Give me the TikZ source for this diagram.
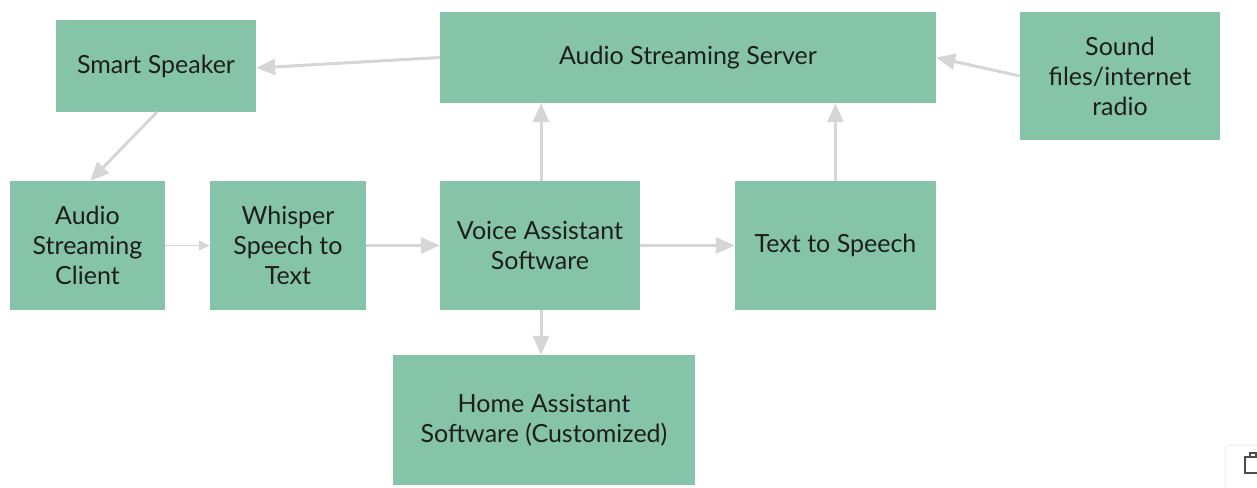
\documentclass[tikz,border=0pt]{standalone}
\usepackage{fontspec}
\setmainfont{Lato}
\usetikzlibrary{arrows.meta}
\definecolor{boxgreen}{RGB}{133,196,168}
\definecolor{linkgray}{RGB}{214,214,214}
\definecolor{textdark}{RGB}{30,30,30}
\tikzset{
  block/.style={fill=boxgreen, draw=none, text=textdark, align=center,
    font=\fontsize{25}{30}\selectfont, inner sep=0pt},
  link/.style={draw=linkgray, line width=3pt,
    -{Triangle[width=16pt,length=19pt]}},
  thinlink/.style={draw=linkgray, line width=1.5pt,
    -{Triangle[width=10pt,length=11pt]}},
}
% place a block by its pixel corners: left, top, right, bottom
\newcommand{\blockat}[6]{%
  \node[block, minimum width={#4-#2}, minimum height={#5-#3}]
    (#1) at ({(#2+#4)/2},{(#3+#5)/2}) {#6};}
\begin{document}
\begin{tikzpicture}[x=1pt, y=-1pt]
\useasboundingbox (0,0) rectangle (1257,487);

\blockat{speaker}{56}{20}{256}{112}{Smart Speaker}
\blockat{server}{440}{12}{936}{103}{Audio Streaming Server}
\blockat{sound}{1020}{12}{1220}{140}{Sound\\files/internet\\radio}
\blockat{client}{10}{181}{165}{310}{Audio\\Streaming\\Client}
\blockat{whisper}{210}{181}{366}{310}{Whisper\\Speech to\\Text}
\blockat{voice}{440}{181}{640}{310}{Voice Assistant\\Software}
\blockat{tts}{735}{181}{936}{310}{Text to Speech}
\blockat{home}{393}{355}{695}{485}{Home Assistant\\Software (Customized)}

% connectors
\draw[link] (server.west) -- ([yshift=-2pt]speaker.east);
\draw[link] (sound.west) -- (server.east);
\coordinate (spk-out) at (157,112);
\coordinate (cli-in) at (90,181);
\draw[link] (spk-out) -- (cli-in);
\draw[thinlink] (client.east) -- (whisper.west);
\draw[link] (whisper.east) -- (voice.west);
\draw[link] (voice.east) -- (tts.west);
\draw[link] ([xshift=1pt]voice.north) -- ([xshift=1pt]voice.north |- server.south);
\draw[link] (tts.north) -- (tts.north |- server.south);
\draw[link] ([xshift=1pt]voice.south) -- ([xshift=1pt]voice.south |- home.north);

% clipboard tab at the lower right edge
\draw[draw=black!7, line width=1pt, rounded corners=4pt] (1260,445) -- (1225,445) -- (1225,490);
\draw[black!70, line width=2pt] (1262,457) -- (1245,457) -- (1245,473) -- (1262,473);
\draw[black!70, line width=2pt] (1250,458) -- (1250,453) -- (1256,453) -- (1256,458);
\end{tikzpicture}
\end{document}
